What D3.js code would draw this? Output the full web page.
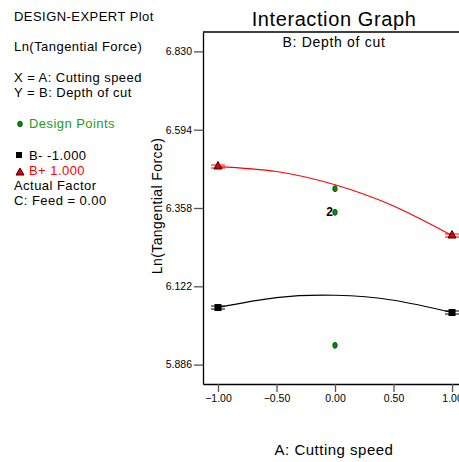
<!DOCTYPE html>
<html>
<head>
<meta charset="utf-8">
<script src="https://cdn.jsdelivr.net/npm/d3@7"></script>
<style>
  body { margin: 0; background: #fff; }
  svg text { font-family: Arial, "Liberation Sans", sans-serif; }
</style>
</head>
<body>
<div id="chart"></div>
<script>

// factor A levels and model predictions
const aLevels = [-1, -0.5, 0, 0.5, 1];
const bMinus = [6.058, 6.088, 6.095, 6.080, 6.043];
const bPlus = [6.483, 6.468, 6.428, 6.364, 6.275];

// design points at A = 0
const designX = [0, 0, 0];
const designY = [6.416, 6.345, 5.944];
const designCount = ["", "2", ""];

const yTicks = [5.886, 6.122, 6.358, 6.594, 6.830];
const xTicks = [-1, -0.5, 0, 0.5, 1];

const legendLines = [
    {text: "DESIGN-EXPERT Plot", y: 21},
    {text: "Ln(Tangential Force)", y: 51},
    {text: "X = A: Cutting speed", y: 82},
    {text: "Y = B: Depth of  cut", y: 97},
    {text: "Actual Factor", y: 190},
    {text: "C: Feed = 0.00", y: 205}
];

let width = 459, height = 462;

let svg = d3.select("#chart").append("svg")
    .attr("width", width)
    .attr("height", height);

// plot area in pixels
let pLeft = 203, pTop = 32, pBottom = 384, pRight = 467;

let x = d3.scaleLinear().domain([-1.128, 1.128]).range([pLeft, pRight]);
let y = d3.scaleLinear().domain([5.8275, 6.8885]).range([pBottom, pTop]);

// left-hand text block
svg.append("g").selectAll("text")
    .data(legendLines)
    .enter().append("text")
    .attr("x", 14)
    .attr("y", d => d.y)
    .style("font-size", "13px")
    .style("letter-spacing", "0.45px")
    .text(d => d.text);

svg.append("ellipse")
    .attr("cx", 20).attr("cy", 124)
    .attr("rx", 2.3).attr("ry", 2.8)
    .attr("fill", "#009000").attr("stroke", "#004000").attr("stroke-width", 0.8);
svg.append("text").attr("x", 29).attr("y", 128)
    .style("font-size", "13px").style("letter-spacing", "0.45px").attr("fill", "#20a020")
    .text("Design Points");

svg.append("rect").attr("x", 16).attr("y", 152).attr("width", 6).attr("height", 6).attr("fill", "#000");
svg.append("text").attr("x", 29).attr("y", 160)
    .style("font-size", "13px").style("letter-spacing", "0.45px").text("B- -1.000");

svg.append("path")
    .attr("d", "M20,168 L24,175 L16,175 Z")
    .attr("fill", "#e00000").attr("stroke", "#400000").attr("stroke-width", 1);
svg.append("text").attr("x", 29).attr("y", 175)
    .style("font-size", "13px").style("letter-spacing", "0.45px").attr("fill", "#ff0000").text("B+ 1.000");

// title
svg.append("text")
    .attr("x", 334).attr("y", 26)
    .attr("text-anchor", "middle")
    .style("font-size", "20px")
    .style("letter-spacing", "0.6px")
    .text("Interaction Graph");

// frame top line
svg.append("line")
    .attr("x1", pLeft).attr("x2", pRight)
    .attr("y1", pTop).attr("y2", pTop)
    .attr("stroke", "#000").attr("stroke-width", 1.3);

svg.append("text")
    .attr("x", 334).attr("y", 47)
    .attr("text-anchor", "middle")
    .style("font-size", "14px")
    .style("letter-spacing", "0.7px")
    .text("B: Depth of cut");

// axes
let yAxis = svg.append("g")
    .attr("transform", `translate(${pLeft},0)`)
    .call(d3.axisLeft(y).tickValues(yTicks).tickFormat(d3.format(".3f")).tickSize(9).tickSizeOuter(0).tickPadding(2));

let xAxis = svg.append("g")
    .attr("transform", `translate(0,${pBottom})`)
    .call(d3.axisBottom(x).tickValues(xTicks).tickFormat(d3.format(".2f")).tickSize(8).tickSizeOuter(0).tickPadding(3));

[yAxis, xAxis].forEach(a => {
    a.select(".domain").attr("stroke", "#000").attr("stroke-width", 1.3);
    a.selectAll(".tick line").attr("stroke", "#555").attr("stroke-width", 1.3);
    a.selectAll(".tick text").style("font-size", "10.5px").attr("fill", "#000")
        .style("font-family", "Arial, 'Liberation Sans', sans-serif");
});

svg.append("text")
    .attr("transform", "translate(162,206) rotate(-90)")
    .attr("text-anchor", "middle")
    .style("font-size", "14px")
    .style("letter-spacing", "0.4px")
    .text("Ln(Tangential Force)");

svg.append("text")
    .attr("x", 334).attr("y", 455)
    .attr("text-anchor", "middle")
    .style("font-size", "15px")
    .style("letter-spacing", "0.5px")
    .text("A: Cutting speed");

// prediction lines
let line = d3.line()
    .x(d => x(d[0]))
    .y(d => y(d[1]))
    .curve(d3.curveNatural);

svg.append("path")
    .datum(aLevels.map((a, i) => [a, bMinus[i]]))
    .attr("d", line)
    .attr("fill", "none").attr("stroke", "#000").attr("stroke-width", 1.2);

svg.append("path")
    .datum(aLevels.map((a, i) => [a, bPlus[i]]))
    .attr("d", line)
    .attr("fill", "none").attr("stroke", "#ff0000").attr("stroke-width", 1.2);

// end markers with LSD bars
let ends = [
    {a: -1, v: bMinus[0], c: "#000", shape: "sq"},
    {a: 1, v: bMinus[4], c: "#000", shape: "sq"},
    {a: -1, v: bPlus[0], c: "#ff0000", shape: "tri"},
    {a: 1, v: bPlus[4], c: "#ff0000", shape: "tri"}
];

ends.forEach(d => {
    let cx = x(d.a), cy = y(d.v);
    [-1.5, 1.5].forEach(off => {
        svg.append("line")
            .attr("x1", cx - 7).attr("x2", cx + 7)
            .attr("y1", cy + off).attr("y2", cy + off)
            .attr("stroke", d.c).attr("stroke-width", 1);
    });
    if (d.shape === "sq") {
        svg.append("rect")
            .attr("x", cx - 3.5).attr("y", cy - 3.5)
            .attr("width", 7).attr("height", 7)
            .attr("fill", "#000");
    } else {
        svg.append("path")
            .attr("d", `M${cx},${cy - 5} L${cx + 4},${cy + 2.5} L${cx - 4},${cy + 2.5} Z`)
            .attr("fill", "#e00000").attr("stroke", "#400000").attr("stroke-width", 1);
    }
});

// design points
svg.append("g").selectAll("ellipse")
    .data(designY)
    .enter().append("ellipse")
    .attr("cx", (d, i) => x(designX[i]))
    .attr("cy", d => y(d))
    .attr("rx", 2.2).attr("ry", 3)
    .attr("fill", "#009000").attr("stroke", "#004000").attr("stroke-width", 0.8);

svg.append("g").selectAll("text")
    .data(designY)
    .enter().append("text")
    .attr("x", (d, i) => x(designX[i]) - 2)
    .attr("y", d => y(d) + 4)
    .attr("text-anchor", "end")
    .style("font-size", "12px")
    .style("font-weight", "bold")
    .text((d, i) => designCount[i]);

</script>
</body>
</html>
